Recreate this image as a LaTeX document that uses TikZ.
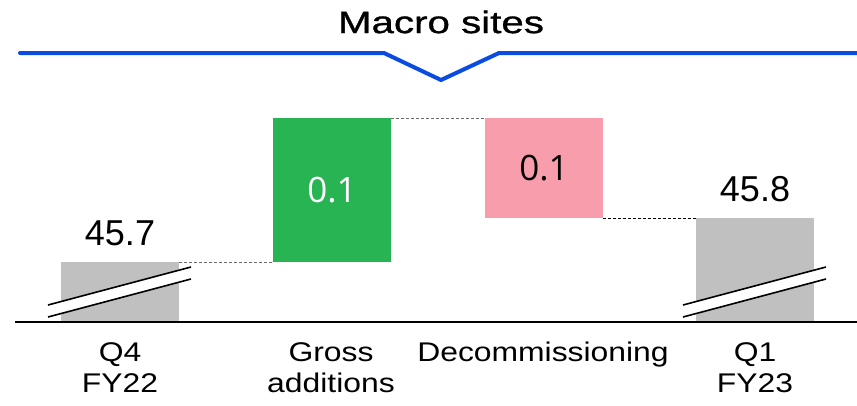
\documentclass[tikz,border=0pt]{standalone}
\usepackage{fontspec}
\setmainfont{Liberation Sans}
\newfontfamily\titlefont[FakeStretch = 1.3, FakeBold = 1]{Liberation Sans}
\newfontfamily\labelfont[FakeStretch = 1.18]{Liberation Sans}
\newfontfamily\valuefont{Open Sans}
\usetikzlibrary{positioning}
\definecolor{siteBlue}{RGB}{10,75,225}
\definecolor{addGreen}{RGB}{40,180,82}
\definecolor{decPink}{RGB}{248,157,172}
\definecolor{totalGray}{RGB}{192,192,192}

\begin{document}
\begin{tikzpicture}[x = 1pt, y = -1pt]
\tikzstyle{BarStyle} = [rectangle, inner sep = 0pt, outer sep = 0pt, minimum width = 118pt, anchor = south west]
\tikzstyle{TotalStyle} = [BarStyle, fill = totalGray]
\tikzstyle{GainStyle} = [BarStyle, fill = addGreen]
\tikzstyle{LossStyle} = [BarStyle, fill = decPink]
\tikzstyle{LinkStyle} = [dashed, dash pattern = on 3pt off 2pt, line width = 1pt, gray!85!black]
\tikzstyle{BreakStyle} = [black, line width = 1.6pt]
\tikzstyle{TitleStyle} = [inner sep = 0pt, font = \titlefont\fontsize{31}{31}\selectfont]
\tikzstyle{TitleLineStyle} = [siteBlue, line width = 4pt, line cap = round, line join = miter]
\tikzstyle{ValueStyle} = [inner sep = 0pt, font = \fontsize{36}{36}\selectfont]
\tikzstyle{InBarStyle} = [inner sep = 0pt, font = \valuefont\fontsize{35}{35}\selectfont]
\tikzstyle{CatStyle} = [inner sep = 0pt, anchor = north, align = center, font = \labelfont\fontsize{27}{31}\selectfont]
\useasboundingbox (0,0) rectangle (857,405);

% title and bracket
\node[TitleStyle] (title) at (441,22) {Macro sites};
\draw[TitleLineStyle] (20,53) -- (384,53) -- (441,80) -- (499,53) -- (860,53);

% bars
\node[TotalStyle, minimum height = 60pt] (q4bar) at (61,322) {};
\node[GainStyle, minimum height = 144pt] (addbar) at (273,262) {};
\node[LossStyle, minimum height = 100pt] (decbar) at (485,218) {};
\node[TotalStyle, minimum height = 104pt] (q1bar) at (696,322) {};

% values
\node[ValueStyle, above = 16pt of q4bar] (q4val) {45.7};
\node[InBarStyle, white] (addval) at (addbar.center) {0.1};
\node[InBarStyle, black] (decval) at (decbar.center) {0.1};
\node[ValueStyle, above = 16pt of q1bar] (q1val) {45.8};

% links
\draw[LinkStyle] (q4bar.north east) -- (addbar.south west);
\draw[LinkStyle] (addbar.north east) -- (decbar.north west);
\draw[LinkStyle, black] (decbar.south east) -- (q1bar.north west);

% axis breaks
\foreach \b in {q4bar, q1bar} {
  \fill[white, shift = {(\b.south)}] (-72,-17) -- (71,-55) -- (71,-43) -- (-72,-5) -- cycle;
  \draw[BreakStyle, shift = {(\b.south)}] (-72,-17) -- (71,-55) (-72,-5) -- (71,-43);
}

% axis
\coordinate (axisL) at (15,322);
\coordinate (axisR) at (857,322);
\draw[line width = 1.6pt] (axisL) -- (axisR);

% categories
\node[CatStyle] (q4cat) at (120,342) {Q4\\FY22};
\node[CatStyle] (addcat) at (331,342) {Gross\\additions};
\node[CatStyle] (deccat) at (543,342) {Decommissioning};
\node[CatStyle] (q1cat) at (755,342) {Q1\\FY23};
\end{tikzpicture}
\end{document}
